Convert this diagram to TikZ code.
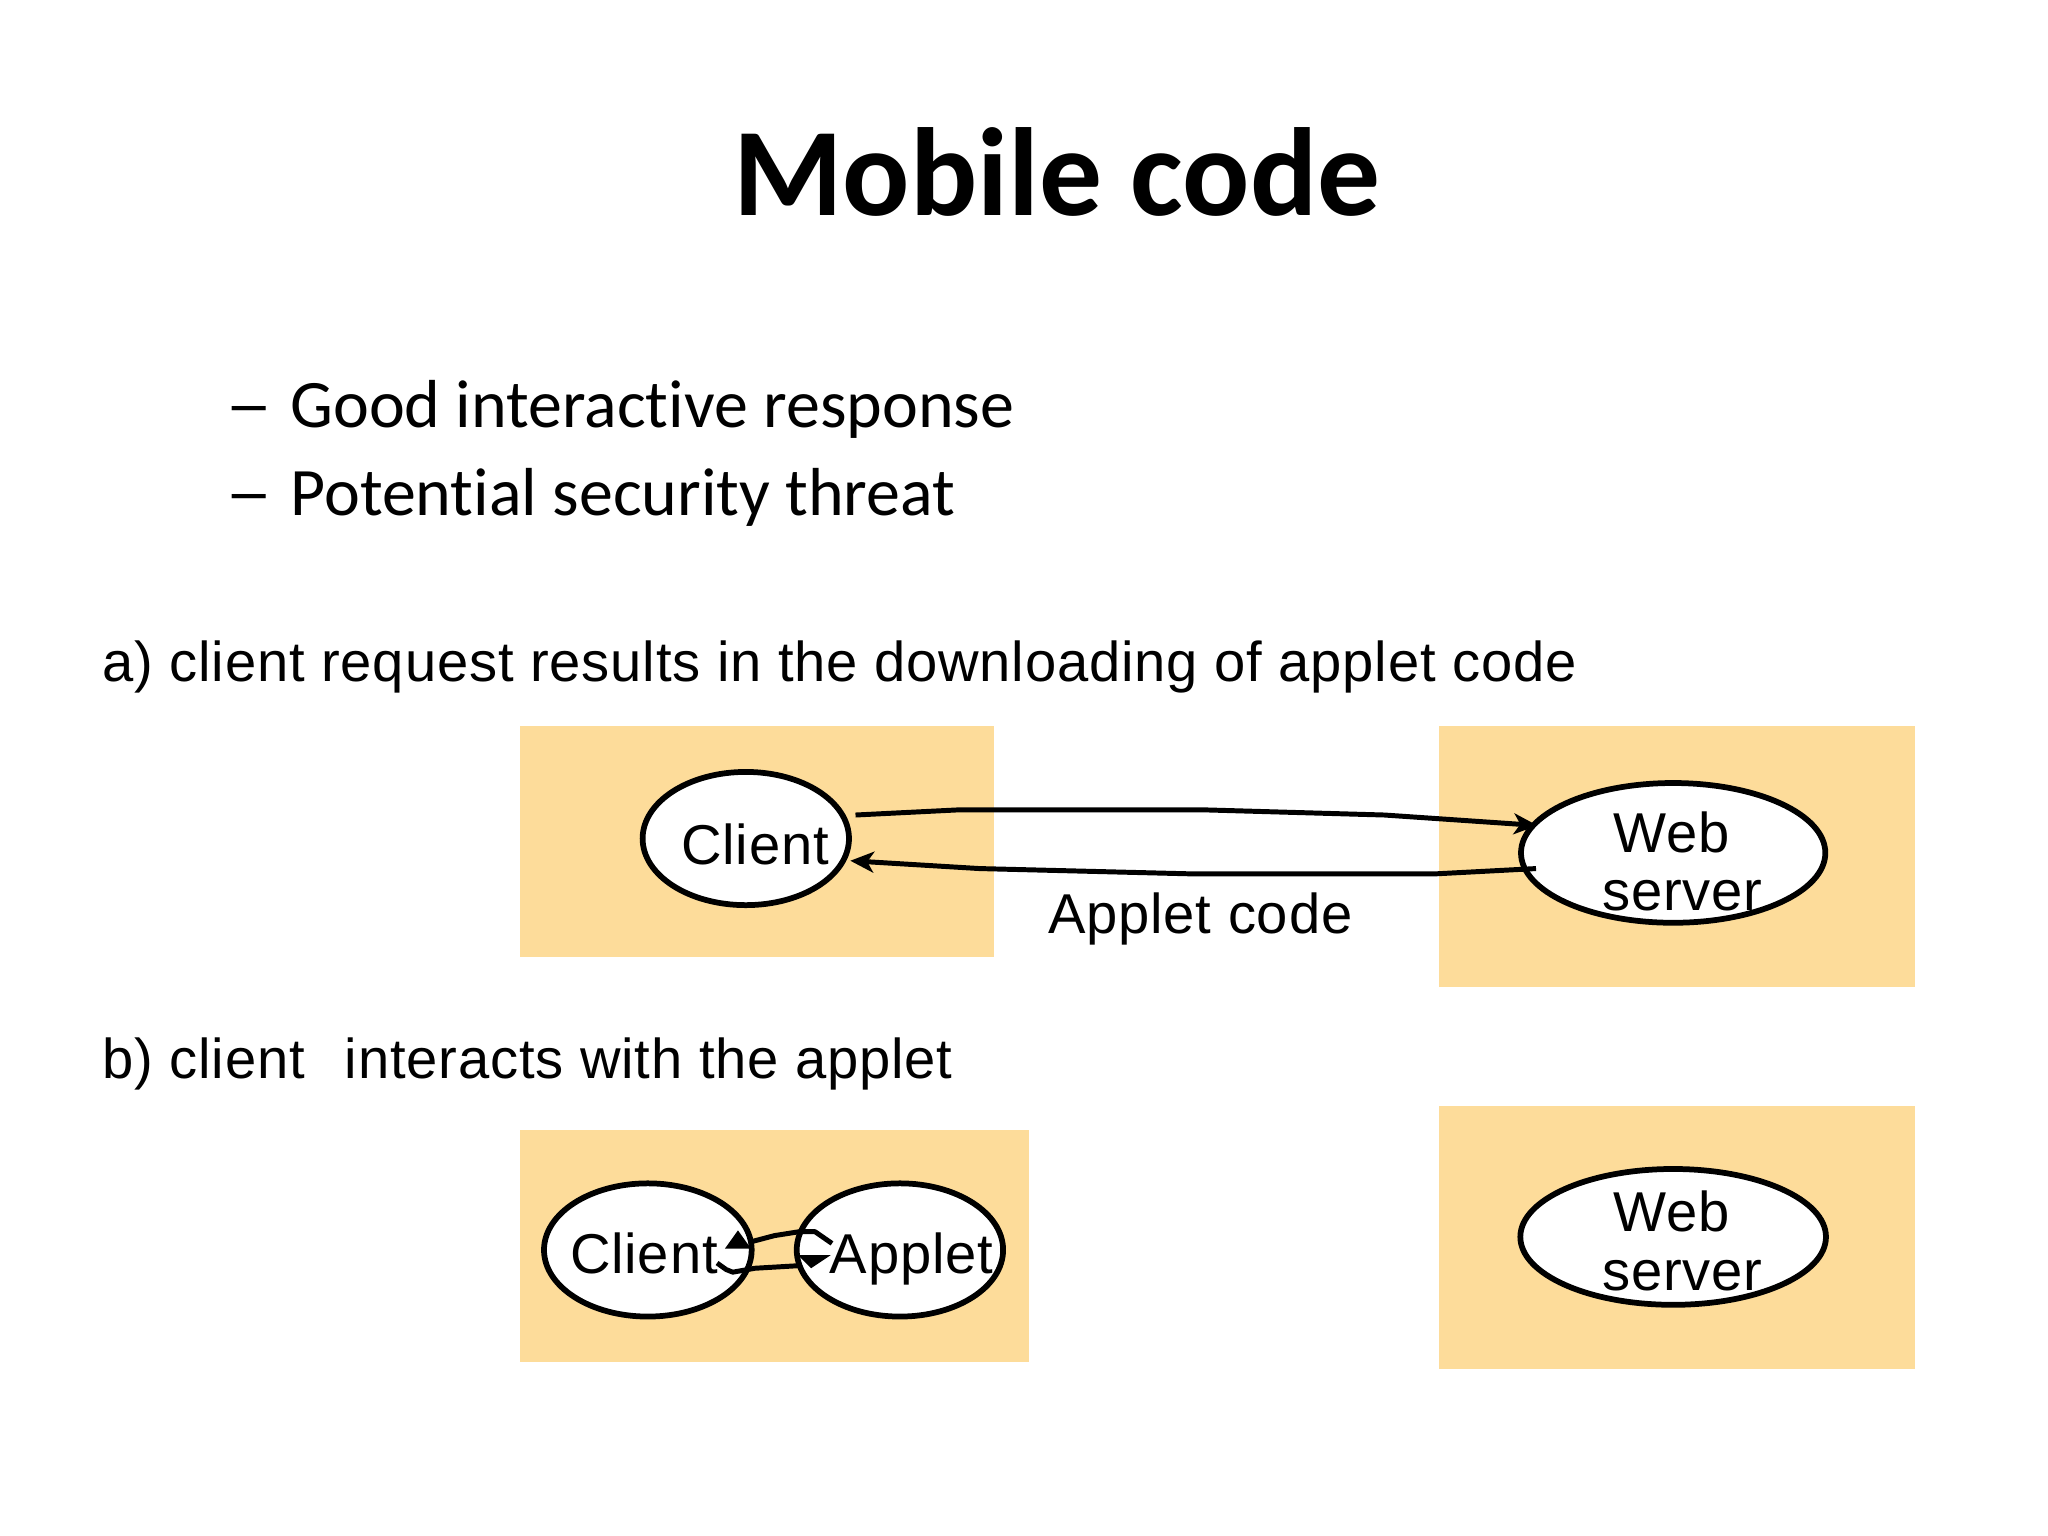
\documentclass[tikz,border=0pt]{standalone}
\usepackage{fontspec}
\setmainfont{Liberation Sans}
\newfontfamily\calfont[Ligatures=NoCommon]{Carlito}
\newfontfamily\capfont[LetterSpace=1.5]{Liberation Sans}
\usetikzlibrary{shapes.geometric,arrows.meta}
\definecolor{boxfill}{RGB}{253,220,154}
\begin{document}
\begin{tikzpicture}[x=0.5pt,y=-0.5pt,
  box/.style={fill=boxfill},
  ell/.style={ellipse, draw, line width=2.2pt, fill=white, inner sep=0pt},
  lbl/.style={font=\capfont\fontsize{21.5}{26}\selectfont, anchor=base, inner sep=0pt},
  txt/.style={font=\capfont\fontsize{21.5}{26}\selectfont, anchor=base west, inner sep=0pt},
  bul/.style={font=\calfont\fontsize{26}{31}\selectfont, anchor=base west, inner sep=0pt},
  conn/.style={line width=1.9pt, -{Stealth[length=9pt,width=8pt,inset=2.5pt]}},
  link/.style={line width=1.9pt}]
\useasboundingbox (0,0) rectangle (1568,1176);
\fill[white] (0,0) rectangle (1568,1176);

% title and bullets
\node[anchor=base, inner sep=0pt, font=\calfont\bfseries\fontsize{48}{58}\selectfont] (title) at (809,165) {Mobile code};
\node[bul] (d1) at (172,327) {\scalebox{1.4}[1]{–}};
\node[bul] (t1) at (222,327) {Good interactive response};
\node[bul] (d2) at (172,395) {\scalebox{1.4}[1]{–}};
\node[bul] (t2) at (222,395) {Potential security threat};

% captions
\node[txt] (capa) at (78,522) {a) client request results in the downloading of applet code};
\node[txt] (capb) at (78,826) {b) client\hspace{9pt} interacts with the applet};

% boxes
\fill[box] (398,556) rectangle (761,733);
\fill[box] (1102,556) rectangle (1466,756);
\fill[box] (398,865) rectangle (788,1043);
\fill[box] (1102,847) rectangle (1466,1048);

% ellipses (a)
\node[ell, minimum width=79pt, minimum height=51pt] (ca) at (571,642) {};
\node[ell, minimum width=116.5pt, minimum height=53.5pt] (wa) at (1281,653) {};
% ellipses (b)
\node[ell, minimum width=79.5pt, minimum height=51pt] (cb) at (496,957) {};
\node[ell, minimum width=79pt, minimum height=51pt] (ab) at (689,957) {};
\node[ell, minimum width=117pt, minimum height=52pt] (wb) at (1281,947) {};

% labels
\node[lbl] (lca) at (578,662) {Client};
\node[lbl] (lwa1) at (1280,653) {Web};
\node[lbl] (lwa2) at (1288,697) {server};
\node[lbl] (lac) at (919,715) {Applet code};
\node[lbl] (lcb) at (493,975) {Client};
\node[lbl] (lab) at (698,975) {Applet};
\node[lbl] (lwb1) at (1280,943) {Web};
\node[lbl] (lwb2) at (1288,988) {server};

% connectors (a)
\coordinate (ra) at (655,624);
\coordinate (ra2) at (1177,632);
\coordinate (rb) at (1176,665);
\coordinate (rb2) at (651,659);
\draw[conn] (ra) -- (735,620) -- (920,620) -- (1060,624) -- (ra2);
\draw[conn] (rb) -- (1100,669) -- (910,669) -- (750,665) -- (rb2);

% connectors (b)
\coordinate (u1) at (574,951);
\coordinate (u2) at (637,952);
\coordinate (l1) at (549,967);
\coordinate (l2) at (612,969);
\draw[link, line join=round] (u1) -- (593,946) -- (612,943) -- (624,943) -- (u2);
\draw[link, line join=round] (l1) -- (556,972) -- (561,974) -- (578,971) -- (595,970) -- (l2);
\fill (555,956) -- (575,956) -- (565,942) -- cycle;
\fill (611,961) -- (636,961) -- (621,971) -- cycle;
\end{tikzpicture}
\end{document}
